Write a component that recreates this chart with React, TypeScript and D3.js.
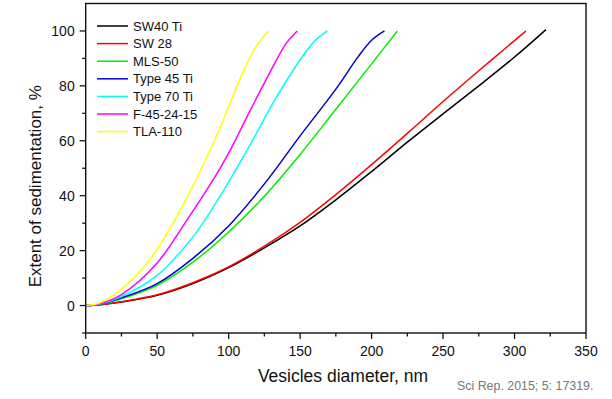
import React from 'react';
import * as d3 from 'd3';

// vesicle diameter (nm) vs extent of sedimentation (%)
const sw40X = [0, 10, 25, 50, 75, 100, 125, 150, 175, 200, 225, 250, 275, 300, 322];
const sw40Y = [0, 0.3, 1.3, 3.7, 8.0, 13.8, 21.0, 29.0, 38.5, 48.8, 59.5, 69.8, 80.0, 90.5, 100.5];

const sw28X = [0, 10, 25, 50, 75, 100, 125, 150, 175, 200, 225, 250, 275, 300, 308];
const sw28Y = [0, 0.3, 1.4, 3.9, 8.3, 14.1, 21.6, 30.3, 40.4, 51.3, 62.7, 74.3, 85.5, 96.5, 100];

const mlsX = [0, 10, 25, 50, 75, 100, 125, 150, 175, 200, 218];
const mlsY = [0, 0.5, 2.5, 7.4, 15.8, 26.8, 39.8, 55.0, 71.5, 88.0, 100];

const t45X = [0, 10, 25, 50, 75, 100, 125, 150, 175, 190, 200, 209];
const t45Y = [0, 0.5, 2.8, 8.0, 17.2, 29.0, 44.3, 61.8, 78.8, 90.2, 96.6, 100];

const t70X = [0, 10, 25, 50, 75, 90, 100, 115, 130, 140, 150, 160, 169];
const t70Y = [0, 0.6, 3.3, 11.0, 25.0, 36.5, 45.0, 58.5, 72.8, 81.5, 89.5, 96.2, 100];

const fX = [0, 10, 25, 50, 70, 90, 100, 115, 130, 140, 148];
const fY = [0, 0.7, 4.0, 15.5, 30.5, 46.5, 55.5, 71.0, 86.0, 95.3, 100];

const tlaX = [0, 10, 25, 40, 50, 60, 70, 80, 90, 100, 110, 120, 128];
const tlaY = [0, 1.0, 6.0, 13.5, 20.5, 29.0, 38.5, 48.8, 60.0, 72.3, 85.0, 95.0, 100];

const seriesNames = ['SW40 Ti', 'SW 28', 'MLS-50', 'Type 45 Ti', 'Type 70 Ti', 'F-45-24-15', 'TLA-110'];
const seriesColors = ['#000000', '#ff0000', '#00ee00', '#0000dd', '#00ffff', '#ff00ff', '#ffff00'];
const seriesX = [sw40X, sw28X, mlsX, t45X, t70X, fX, tlaX];
const seriesY = [sw40Y, sw28Y, mlsY, t45Y, t70Y, fY, tlaY];

const xTicks = [0, 50, 100, 150, 200, 250, 300, 350];
const yTicks = [0, 20, 40, 60, 80, 100];

const W = 612;
const H = 399;
const left = 85.7;
const right = 586;
const top = 3.5;
const bottom = 333;
const font = 'Liberation Sans, Arial, sans-serif';

export default function App() {
  const x = d3.scaleLinear().domain([0, 350]).range([left, right]);
  const y = d3.scaleLinear().domain([-10, 110]).range([bottom, top]);

  const line = d3
    .line<[number, number]>()
    .x((d) => x(d[0]))
    .y((d) => y(d[1]))
    .curve(d3.curveCatmullRom.alpha(0.5));

  const xMinor = d3.range(25, 350, 50);
  const yMinor = d3.range(-10, 110, 20);

  return (
    <svg width={W} height={H} style={{ position: 'absolute', left: 0, top: 0 }} fontFamily={font}>
      <rect x={0} y={0} width={W} height={H} fill="#fff" />

      {seriesX.map((xs, i) => (
        <path
          key={seriesNames[i]}
          d={line(xs.map((v, j) => [v, seriesY[i][j]] as [number, number]))!}
          fill="none"
          stroke={seriesColors[i]}
          strokeWidth={1.5}
        />
      ))}

      <rect x={left} y={top} width={right - left} height={bottom - top} fill="none" stroke="#111" strokeWidth={1.4} />

      {/* x axis ticks */}
      {xTicks.map((t) => (
        <g key={'x' + t}>
          <line x1={x(t)} x2={x(t)} y1={bottom} y2={bottom + 6} stroke="#111" strokeWidth={1.3} />
          <text x={x(t)} y={bottom + 23} textAnchor="middle" fontSize={14} fill="#111">{t}</text>
        </g>
      ))}
      {xMinor.map((t) => (
        <line key={'xm' + t} x1={x(t)} x2={x(t)} y1={bottom} y2={bottom + 3.5} stroke="#111" strokeWidth={1.3} />
      ))}

      {/* y axis ticks */}
      {yTicks.map((t) => (
        <g key={'y' + t}>
          <line x1={left - 6} x2={left} y1={y(t)} y2={y(t)} stroke="#111" strokeWidth={1.3} />
          <text x={left - 11} y={y(t) + 5} textAnchor="end" fontSize={14} fill="#111">{t}</text>
        </g>
      ))}
      {yMinor.map((t) => (
        <line key={'ym' + t} x1={left - 3.5} x2={left} y1={y(t)} y2={y(t)} stroke="#111" strokeWidth={1.3} />
      ))}

      <text x={343} y={382} textAnchor="middle" fontSize={17.5} fill="#111">
        Vesicles diameter, nm
      </text>
      <text
        transform={`translate(41, ${(top + bottom) / 2 + 18}) rotate(-90)`}
        textAnchor="middle"
        fontSize={17}
        fill="#111"
      >
        Extent of sedimentation, %
      </text>

      {/* legend */}
      {seriesNames.map((name, i) => {
        const ly = 26 + i * 17.6;
        return (
          <g key={'lg' + name}>
            <line x1={97} x2={128} y1={ly} y2={ly} stroke={seriesColors[i]} strokeWidth={1.5} />
            <text x={133} y={ly + 4.5} fontSize={13} fill="#111">{name}</text>
          </g>
        );
      })}

      <text x={457} y={390} fontSize={12.4} fill="#777">Sci Rep. 2015; 5: 17319.</text>
    </svg>
  );
}
